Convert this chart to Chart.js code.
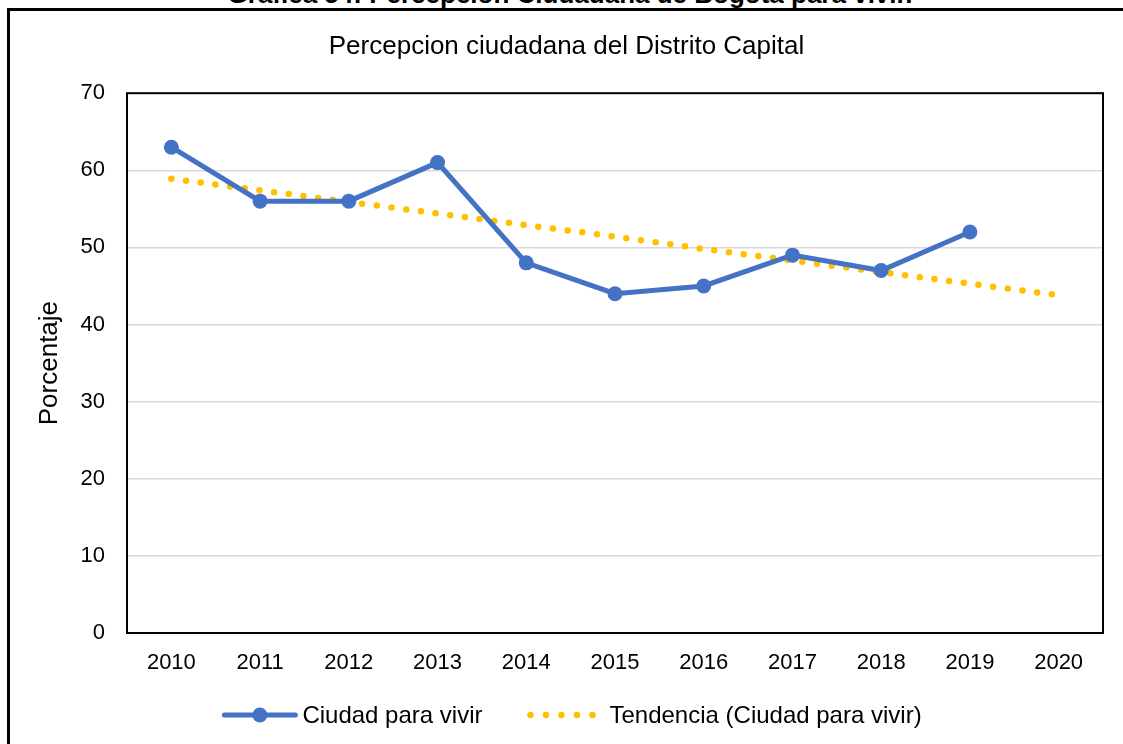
<!DOCTYPE html>
<html lang="es">
<head>
<meta charset="utf-8">
<title>Percepcion ciudadana del Distrito Capital</title>
<script src="https://cdn.jsdelivr.net/npm/chart.js@4/dist/chart.umd.min.js"></script>
<style>
  html, body { margin: 0; padding: 0; background: #fff; overflow: hidden; width: 1123px; height: 744px; }
  #caption {
    position: absolute; left: 0; top: -21px; width: 1140px;
    text-align: center; font: bold 26px "Liberation Sans", Arial, sans-serif; line-height: 30px; color: #000;
  }
  #frame {
    position: absolute; left: 7px; top: 8px; width: 1200px; height: 800px;
    border-left: 3px solid #000; border-top: 3px solid #000; box-sizing: border-box;
    pointer-events: none;
  }
  #wrap { position: absolute; left: 0; top: 0; width: 1140px; height: 744px; }
</style>
</head>
<body>
<div id="caption">Gráfica 54: Percepción Ciudadana de Bogotá para vivir.</div>
<div id="wrap"><canvas id="lineChart" width="1140" height="744"></canvas></div>
<div id="frame"></div>
<script>
// datos
const years = ['2010', '2011', '2012', '2013', '2014', '2015', '2016', '2017', '2018', '2019', '2020'];
const ciudadParaVivir = [63, 56, 56, 61, 48, 44, 45, 49, 47, 52, null];
const tendencia = [58.9, 57.4, 55.9, 54.4, 52.9, 51.4, 49.8, 48.3, 46.8, 45.3, 43.8];
const yMin = 0, yMax = 70, yStep = 10;

const FONT = '"Liberation Sans", Arial, sans-serif';
const BLUE = '#4472C4';
const GOLD = '#FFC000';

// marco negro del area de trazado
const plotBorder = {
  id: 'plotBorder',
  beforeDatasetsDraw(chart) {
    const { ctx, chartArea: a } = chart;
    ctx.save();
    ctx.strokeStyle = '#000';
    ctx.lineWidth = 2;
    ctx.strokeRect(a.left, a.top, a.right - a.left, a.bottom - a.top);
    ctx.restore();
  }
};

// leyenda con linea + marcador
const lineLegend = {
  id: 'lineLegend',
  afterDraw(chart) {
    const { ctx } = chart;
    const ds = chart.data.datasets;
    const y = 715;
    ctx.save();
    ctx.font = '24px ' + FONT;
    ctx.textBaseline = 'middle';
    const w1 = ctx.measureText(ds[0].label).width;
    const w2 = ctx.measureText(ds[1].label).width;
    const total = 71 + 7 + w1 + 48 + 62 + 17 + w2;
    let x = chart.width / 2 - total / 2 + 3;

    // serie
    ctx.strokeStyle = ds[0].borderColor;
    ctx.lineWidth = ds[0].borderWidth;
    ctx.lineCap = 'round';
    ctx.beginPath();
    ctx.moveTo(x, y);
    ctx.lineTo(x + 71, y);
    ctx.stroke();
    ctx.fillStyle = ds[0].pointBackgroundColor;
    ctx.beginPath();
    ctx.arc(x + 35.5, y, ds[0].pointRadius, 0, Math.PI * 2);
    ctx.fill();
    x += 71 + 7;
    ctx.fillStyle = '#000';
    ctx.fillText(ds[0].label, x, y + 1);
    x += w1 + 48;

    // tendencia
    ctx.fillStyle = ds[1].borderColor;
    for (let i = 0; i < 5; i++) {
      ctx.beginPath();
      ctx.arc(x + i * 15.5, y, ds[1].borderWidth / 2, 0, Math.PI * 2);
      ctx.fill();
    }
    x += 62 + 17;
    ctx.fillStyle = '#000';
    ctx.fillText(ds[1].label, x, y + 1);
    ctx.restore();
  }
};

const ctx = document.getElementById('lineChart').getContext('2d');

new Chart(ctx, {
  type: 'line',
  data: {
    labels: years,
    datasets: [{
      label: 'Ciudad para vivir',
      data: ciudadParaVivir,
      borderColor: BLUE,
      backgroundColor: BLUE,
      pointBackgroundColor: BLUE,
      borderWidth: 5,
      pointRadius: 7.5,
      pointBorderWidth: 0,
      tension: 0,
      order: 1
    }, {
      label: 'Tendencia (Ciudad para vivir)',
      data: tendencia,
      borderColor: GOLD,
      borderWidth: 6.5,
      borderDash: [0, 14.8],
      borderCapStyle: 'round',
      pointRadius: 0,
      tension: 0,
      order: 2
    }]
  },
  options: {
    responsive: false,
    animation: false,
    layout: { padding: { left: 30, right: 37, top: 0, bottom: 0 } },
    plugins: {
      legend: { display: false },
      tooltip: { enabled: false },
      title: {
        display: true,
        text: 'Percepcion ciudadana del Distrito Capital',
        color: '#000',
        font: { family: FONT, size: 26, weight: 'normal' },
        padding: { top: 31, bottom: 31 }
      }
    },
    scales: {
      x: {
        offset: true,
        grid: { display: false, drawTicks: false },
        border: { display: false },
        ticks: { color: '#000', font: { family: FONT, size: 22 }, padding: 17, maxRotation: 0 },
        afterFit(scale) { scale.height = 111; }
      },
      y: {
        min: yMin,
        max: yMax,
        grid: { color: '#D9D9D9', lineWidth: 1.5, drawTicks: false },
        border: { display: false },
        ticks: { stepSize: yStep, color: '#000', font: { family: FONT, size: 22 }, padding: 22 },
        title: {
          display: true,
          text: 'Porcentaje',
          color: '#000',
          font: { family: FONT, size: 26 },
          padding: { top: 4, bottom: 0 }
        },
        afterFit(scale) { scale.width = 97; }
      }
    }
  },
  plugins: [plotBorder, lineLegend]
});
</script>
</body>
</html>
